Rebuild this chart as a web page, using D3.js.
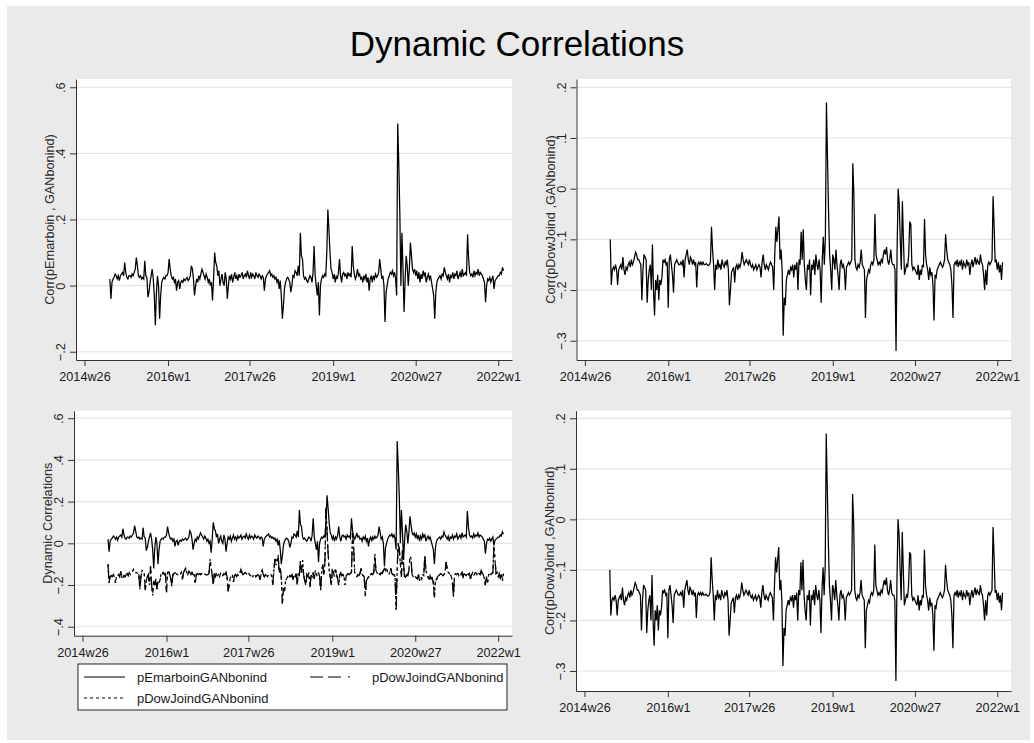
<!DOCTYPE html>
<html>
<head>
<meta charset="utf-8">
<script src="https://cdn.jsdelivr.net/npm/d3@7"></script>
<style>
  body { margin: 0; background: #ffffff; }
  text { font-family: "Liberation Sans", Arial, sans-serif; fill: #1a1a1a; }
</style>
</head>
<body>
<div class="canvas"></div>
<script>
// weekly dates are Stata %tw numbers (weeks since 1960w1); 2857 = 2014w50
const startWeek = 2857;

// Corr(pEmarboin, GANbonind), one value per week
const emar = [
  0.02,-0.04,0.01,0.02,0.025,0.035,0.03,0.02,0.03,0.015,0.03,0.035,0.04,0.03,0.07,0.04,0.025,0.02,0.03,0.03,
  0.025,0.035,0.03,0.04,0.05,0.085,0.06,0.03,0.025,0.03,0.02,0.025,0.02,0.075,0.03,0.025,-0.035,-0.02,0.01,0.03,
  0.05,0.02,-0.03,-0.12,-0.02,0.03,0.0,-0.10,-0.03,0.01,0.02,0.025,0.02,0.03,0.03,0.04,0.08,0.05,0.03,0.02,
  0.025,0.01,0.02,-0.015,0.01,0.015,-0.01,0.01,0.015,0.01,0.02,0.015,0.02,0.025,0.015,0.02,0.03,0.06,0.05,0.02,
  -0.03,0.0,0.02,0.01,0.03,0.02,0.035,0.05,0.04,0.03,0.02,0.035,0.025,0.01,0.02,0.0,0.01,-0.045,0.02,0.10,
  0.07,0.06,0.03,0.045,0.0,0.02,0.035,0.01,0.0,0.04,0.02,-0.04,0.0,0.03,0.02,0.035,0.01,0.025,0.04,0.02,
  0.03,0.015,0.035,0.025,0.03,0.04,0.02,0.03,0.035,0.025,0.045,0.03,0.02,0.04,0.025,0.035,0.03,0.02,0.04,0.03,
  0.025,0.035,0.03,0.02,0.03,0.025,-0.015,0.02,0.03,0.035,0.04,0.045,0.03,0.035,0.025,0.03,0.02,0.025,0.01,0.02,
  -0.01,0.015,-0.03,-0.10,-0.06,-0.01,0.01,0.02,0.025,0.02,0.01,-0.02,0.0,0.03,0.025,0.045,0.04,0.03,0.06,0.03,
  0.16,0.09,0.08,0.03,0.02,0.025,0.015,0.01,0.02,0.03,0.025,0.01,0.04,0.12,0.03,0.0,-0.03,0.01,-0.09,0.0,
  0.02,0.03,0.025,0.035,0.03,0.10,0.23,0.17,0.10,0.05,0.04,0.02,0.035,0.01,0.03,0.02,0.04,0.08,0.03,0.01,
  0.035,0.04,0.03,0.035,0.02,0.04,0.03,0.035,0.025,0.12,0.06,0.035,0.02,0.03,0.05,0.03,0.035,0.02,0.025,0.01,
  0.03,0.02,0.035,0.01,0.025,-0.015,0.02,0.03,0.01,0.03,0.02,0.035,0.025,0.03,0.04,0.08,0.05,0.02,0.03,0.0,
  -0.11,-0.02,0.0,0.02,0.03,0.04,0.035,0.045,0.03,0.04,0.02,-0.03,0.49,0.37,0.22,0.0,0.16,0.05,-0.08,0.02,
  0.09,0.06,0.0,0.05,0.13,0.09,0.05,0.04,0.05,0.03,0.045,0.02,0.04,0.01,0.035,0.02,0.045,0.03,0.04,0.01,
  0.025,0.035,0.02,0.03,0.01,-0.01,-0.03,-0.10,-0.02,0.01,0.02,0.025,0.03,0.02,0.035,0.03,0.055,0.04,0.03,0.02,
  0.035,0.01,0.03,0.025,0.04,0.02,0.035,0.03,0.045,0.02,0.03,0.04,0.025,0.05,0.03,0.035,0.04,0.03,0.155,0.08,
  0.04,0.03,0.035,0.025,0.045,0.03,0.04,0.035,0.05,0.03,0.04,0.035,0.03,0.02,0.01,-0.05,0.0,0.02,0.015,0.025,
  0.01,0.02,0.03,-0.01,0.015,0.02,0.025,0.03,0.03,0.04,0.035,0.055,0.045
];

// Corr(pDowJoind, GANbonind), one value per week
const dow = [
  -0.10,-0.19,-0.16,-0.155,-0.16,-0.15,-0.16,-0.19,-0.16,-0.155,-0.15,-0.16,-0.135,-0.16,-0.17,-0.155,-0.16,-0.15,-0.145,-0.155,
  -0.14,-0.15,-0.145,-0.135,-0.125,-0.13,-0.14,-0.14,-0.145,-0.15,-0.22,-0.16,-0.13,-0.135,-0.14,-0.225,-0.18,-0.16,-0.15,-0.20,
  -0.11,-0.20,-0.25,-0.18,-0.20,-0.17,-0.22,-0.18,-0.19,-0.175,-0.14,-0.145,-0.14,-0.15,-0.145,-0.235,-0.14,-0.13,-0.15,-0.17,
  -0.205,-0.15,-0.145,-0.14,-0.145,-0.15,-0.15,-0.145,-0.15,-0.14,-0.175,-0.14,-0.13,-0.12,-0.14,-0.15,-0.135,-0.14,-0.15,-0.14,
  -0.15,-0.145,-0.195,-0.15,-0.145,-0.15,-0.145,-0.15,-0.145,-0.15,-0.15,-0.148,-0.15,-0.152,-0.15,-0.145,-0.075,-0.12,-0.15,-0.20,
  -0.15,-0.16,-0.14,-0.155,-0.15,-0.16,-0.14,-0.15,-0.155,-0.145,-0.15,-0.14,-0.16,-0.23,-0.20,-0.165,-0.16,-0.155,-0.185,-0.155,
  -0.15,-0.16,-0.15,-0.155,-0.145,-0.125,-0.14,-0.15,-0.145,-0.14,-0.145,-0.15,-0.14,-0.15,-0.155,-0.15,-0.16,-0.155,-0.15,-0.16,
  -0.155,-0.15,-0.155,-0.175,-0.145,-0.13,-0.15,-0.16,-0.15,-0.155,-0.16,-0.15,-0.145,-0.15,-0.155,-0.20,-0.13,-0.075,-0.105,-0.08,
  -0.055,-0.14,-0.12,-0.16,-0.29,-0.215,-0.23,-0.18,-0.17,-0.16,-0.17,-0.155,-0.16,-0.15,-0.175,-0.15,-0.16,-0.145,-0.20,-0.14,
  -0.15,-0.085,-0.14,-0.08,-0.15,-0.18,-0.20,-0.15,-0.16,-0.14,-0.21,-0.15,-0.16,-0.14,-0.17,-0.13,-0.15,-0.16,-0.14,-0.16,
  -0.225,-0.14,-0.095,-0.15,-0.095,0.17,0.06,-0.045,-0.13,-0.16,-0.20,-0.13,-0.14,-0.16,-0.12,-0.15,-0.17,-0.20,-0.15,-0.14,
  -0.155,-0.15,-0.16,-0.20,-0.155,-0.15,-0.145,-0.15,-0.145,-0.14,0.05,-0.01,-0.14,-0.155,-0.16,-0.15,-0.155,-0.145,-0.12,-0.15,
  -0.155,-0.16,-0.255,-0.18,-0.17,-0.16,-0.165,-0.15,-0.145,-0.15,-0.14,-0.05,-0.13,-0.14,-0.15,-0.145,-0.15,-0.14,-0.145,-0.13,
  -0.12,-0.13,-0.115,-0.14,-0.15,-0.14,-0.12,-0.145,-0.15,-0.15,-0.16,-0.32,-0.12,0.0,-0.03,-0.10,-0.16,-0.025,-0.10,-0.17,
  -0.16,-0.15,-0.155,-0.13,-0.065,-0.07,-0.15,-0.16,-0.155,-0.16,-0.165,-0.17,-0.15,-0.18,-0.16,-0.17,-0.15,-0.155,-0.06,-0.13,
  -0.15,-0.16,-0.18,-0.155,-0.17,-0.165,-0.19,-0.26,-0.17,-0.175,-0.16,-0.155,-0.15,-0.145,-0.15,-0.155,-0.15,-0.14,-0.09,-0.12,
  -0.14,-0.145,-0.15,-0.16,-0.19,-0.255,-0.15,-0.145,-0.15,-0.14,-0.155,-0.145,-0.15,-0.14,-0.16,-0.145,-0.15,-0.155,-0.14,-0.15,
  -0.145,-0.17,-0.15,-0.14,-0.155,-0.145,-0.135,-0.15,-0.14,-0.145,-0.15,-0.13,-0.145,-0.15,-0.17,-0.20,-0.16,-0.19,-0.15,-0.145,
  -0.15,-0.145,-0.14,-0.015,-0.075,-0.145,-0.14,-0.16,-0.145,-0.165,-0.15,-0.18,-0.145
];

// axis ticks and labels
const xTicks = [2833, 2912, 2989, 3068, 3146, 3224];
const xTickLabels = ["2014w26", "2016w1", "2017w26", "2019w1", "2020w27", "2022w1"];
const yTicksEmar = [-0.2, 0, 0.2, 0.4, 0.6];
const yTicksDow = [-0.3, -0.2, -0.1, 0, 0.1, 0.2];
const yTicksBoth = [-0.4, -0.2, 0, 0.2, 0.4, 0.6];
const legendNames = ["pEmarboinGANbonind", "pDowJoindGANbonind", "pDowJoindGANbonind"];

const chartTitle = "Dynamic Correlations";

const width = 1034, height = 743;

const svg = d3.select('.canvas')
  .append('svg')
    .attr('width', width)
    .attr('height', height);

// grey graph region
svg.append('rect')
  .attr('x', 7).attr('y', 6)
  .attr('width', width - 11).attr('height', height - 9)
  .attr('fill', '#eaeaea');

svg.append('text')
  .attr('x', 517).attr('y', 56)
  .attr('text-anchor', 'middle')
  .style('font-size', '35px')
  .style('fill', '#000')
  .text(chartTitle);

const emarData = emar.map((v, i) => ({week: startWeek + i, v: v}));
const dowData = dow.map((v, i) => ({week: startWeek + i, v: v}));

// stata style number labels: .6, -.2, 0
const stataFmt = v => v === 0 ? "0" : d3.format(".1f")(v).replace("0.", ".");

const longDashDot = "13,5,13,7,2,7";
const shortDash = "3,3";

const panels = [
  {left: 76, right: 512, top: 79, bottom: 360, yDomain: [-0.225, 0.625], yTicks: yTicksEmar,
   title: "Corr(pEmarboin , GANbonind)", series: [{data: emarData, dash: null}]},
  {left: 576.5, right: 1011, top: 79, bottom: 360, yDomain: [-0.338, 0.2164], yTicks: yTicksDow,
   title: "Corr(pDowJoind ,GANbonind)", series: [{data: dowData, dash: null}]},
  {left: 74, right: 512, top: 410.7, bottom: 635.7, yDomain: [-0.443, 0.636], yTicks: yTicksBoth,
   title: "Dynamic Correlations",
   series: [{data: emarData, dash: null}, {data: dowData, dash: longDashDot}, {data: dowData, dash: shortDash}]},
  {left: 576, right: 1011, top: 410.7, bottom: 691, yDomain: [-0.3396, 0.215], yTicks: yTicksDow,
   title: "Corr(pDowJoind ,GANbonind)", series: [{data: dowData, dash: null}]}
];

panels.forEach(p => {
  const x = d3.scaleLinear().domain([2825, 3237]).range([p.left, p.right]);
  const y = d3.scaleLinear().domain(p.yDomain).range([p.bottom, p.top]);
  const g = svg.append('g');

  // plot region
  g.append('rect')
    .attr('x', p.left).attr('y', p.top)
    .attr('width', p.right - p.left).attr('height', p.bottom - p.top)
    .attr('fill', '#fff');

  // grid lines
  g.selectAll('.grid')
    .data(p.yTicks)
    .enter()
    .append('line')
      .attr('x1', p.left).attr('x2', p.right)
      .attr('y1', d => y(d)).attr('y2', d => y(d))
      .attr('stroke', '#e4e4e4')
      .attr('stroke-width', 1.2);

  // lines
  const line = d3.line().x(d => x(d.week)).y(d => y(d.v));
  p.series.forEach(s => {
    g.append('path')
      .datum(s.data)
      .attr('d', line)
      .attr('fill', 'none')
      .attr('stroke', '#000')
      .attr('stroke-width', 1.25)
      .attr('stroke-dasharray', s.dash);
  });

  // x axis
  const xAxis = g.append('g')
    .attr('transform', `translate(0,${p.bottom})`)
    .call(d3.axisBottom(x).tickValues(xTicks)
      .tickFormat((d, i) => xTickLabels[i]).tickSize(6).tickSizeOuter(0));
  xAxis.selectAll('text')
    .attr('y', 21).attr('dy', 0)
    .style('font-size', '12.7px');

  // y axis
  const yAxis = g.append('g')
    .attr('transform', `translate(${p.left},0)`)
    .call(d3.axisLeft(y).tickValues(p.yTicks)
      .tickFormat(stataFmt).tickSize(6).tickSizeOuter(0));
  yAxis.selectAll('text')
    .attr('transform', 'rotate(-90)')
    .attr('x', 0).attr('y', -11).attr('dy', 0)
    .style('text-anchor', 'middle')
    .style('font-size', '12.7px');

  [xAxis, yAxis].forEach(a => {
    a.select('.domain').attr('stroke', '#333');
    a.selectAll('.tick line').attr('stroke', '#333');
    a.attr('font-family', null).attr('font-size', null);
  });

  // axis title
  g.append('text')
    .attr('transform', `translate(${p.left - 22},${(p.top + p.bottom) / 2}) rotate(-90)`)
    .attr('text-anchor', 'middle')
    .style('font-size', '12.7px')
    .style('fill', '#2a2a2a')
    .text(p.title);
});

// legend below the combined panel
const legend = svg.append('g');
legend.append('rect')
  .attr('x', 78).attr('y', 664)
  .attr('width', 429).attr('height', 46)
  .attr('fill', '#fff')
  .attr('stroke', '#222');

const legendItems = [
  {x: 84, y: 677, len: 41, dash: null, tx: 137},
  {x: 310, y: 677, len: 47, dash: longDashDot, tx: 372},
  {x: 84, y: 698, len: 41, dash: shortDash, tx: 137}
];
legendItems.forEach((d, i) => {
  legend.append('line')
    .attr('x1', d.x).attr('x2', d.x + d.len)
    .attr('y1', d.y).attr('y2', d.y)
    .attr('stroke', '#000')
    .attr('stroke-dasharray', d.dash);
  legend.append('text')
    .attr('x', d.tx).attr('y', d.y + 4.5)
    .style('font-size', '13px')
    .text(legendNames[i]);
});
</script>
</body>
</html>
